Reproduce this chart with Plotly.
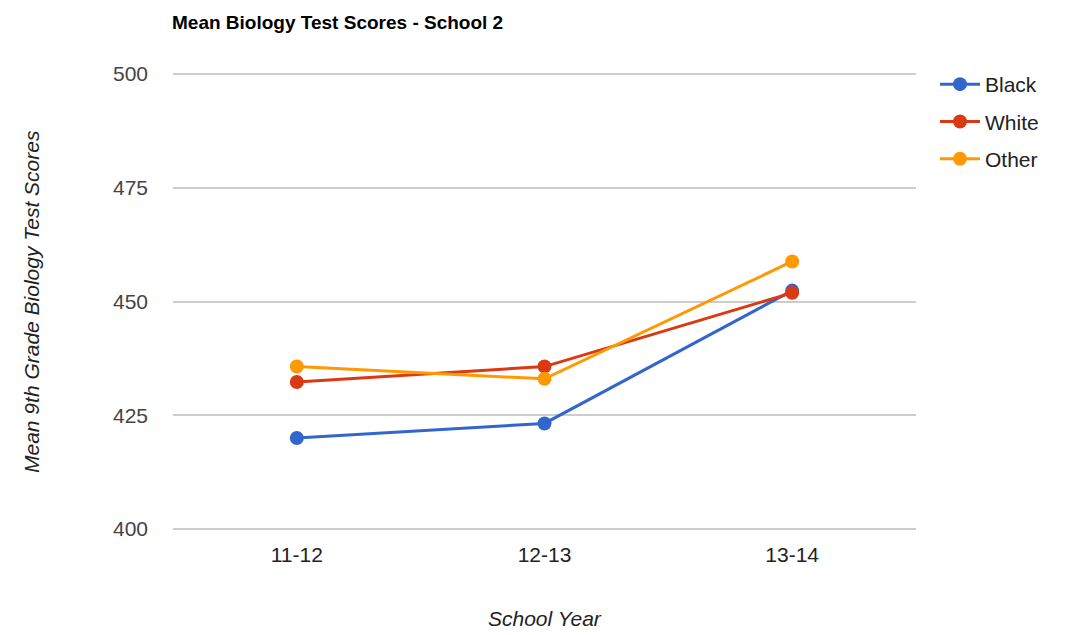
import plotly.graph_objects as go

years = ["11-12", "12-13", "13-14"]
black = [420.0, 423.2, 452.4]
white = [432.3, 435.7, 451.9]
other = [435.7, 433.0, 458.8]
series = [("Black", black, "#3366cc"), ("White", white, "#dc3912"), ("Other", other, "#ff9900")]
yticks = [400, 425, 450, 475, 500]

W, H = 1070, 635
OFF = 8  # page body margin offset
PAD = 7  # px of padding above 500 / below 400 so the edge gridlines are drawn
PL, PR, PT, PB = 173, 916, 74 - PAD, 529 + PAD  # plot area in page pixels
PW, PH = PR - PL, PB - PT
upp = 100 / 455  # value units per pixel

fig = go.Figure()
for name, vals, col in series:
    fig.add_trace(go.Scatter(x=years, y=vals, name=name, mode="lines+markers",
                             legendgroup=name,
                             line=dict(color=col, width=3),
                             marker=dict(color=col, size=14)))

fig.update_layout(
    width=W, height=H,
    margin=dict(l=PL - OFF, r=W - PR + OFF, t=PT - OFF, b=H - PB + OFF),
    paper_bgcolor="white", plot_bgcolor="white",
    font=dict(family="Arial, Liberation Sans, sans-serif", color="#222"),
    title=dict(text="<b>Mean Biology Test Scores - School 2</b>", x=(172 - OFF) / W, xref="container",
               xanchor="left", y=1 - (22 - OFF) / H, yref="container", yanchor="middle",
               font=dict(size=19, color="black")),
    showlegend=True,
    legend=dict(x=(935 - PL) / PW, xanchor="left", y=1 + (PT - 64) / PH, yanchor="top",
                font=dict(size=21, color="#222"), tracegroupgap=7, itemwidth=40),
    xaxis=dict(type="category", range=[-0.5, 2.5], showgrid=False, showline=False,
               tickfont=dict(size=21, color="#222"), ticks="", ticklabelstandoff=4),
    yaxis=dict(range=[400 - PAD * upp, 500 + PAD * upp], tickvals=yticks, showgrid=True,
               gridcolor="#cccccc", gridwidth=1.5, zeroline=False, showline=False, ticks="",
               tickfont=dict(size=21, color="#444"), ticklabelstandoff=24),
    annotations=[
        dict(text="<i>Mean 9th Grade Biology Test Scores</i>", textangle=-90,
             xref="paper", yref="paper", x=(31 - PL) / PW, y=(PB - 302) / PH,
             xanchor="center", yanchor="middle", showarrow=False,
             font=dict(size=21, color="#222")),
        dict(text="<i>School Year</i>", xref="paper", yref="paper",
             x=(545 - PL) / PW, y=(PB - 618) / PH, xanchor="center", yanchor="middle",
             showarrow=False, font=dict(size=21, color="#222")),
    ],
)
fig.write_html("out.html")
